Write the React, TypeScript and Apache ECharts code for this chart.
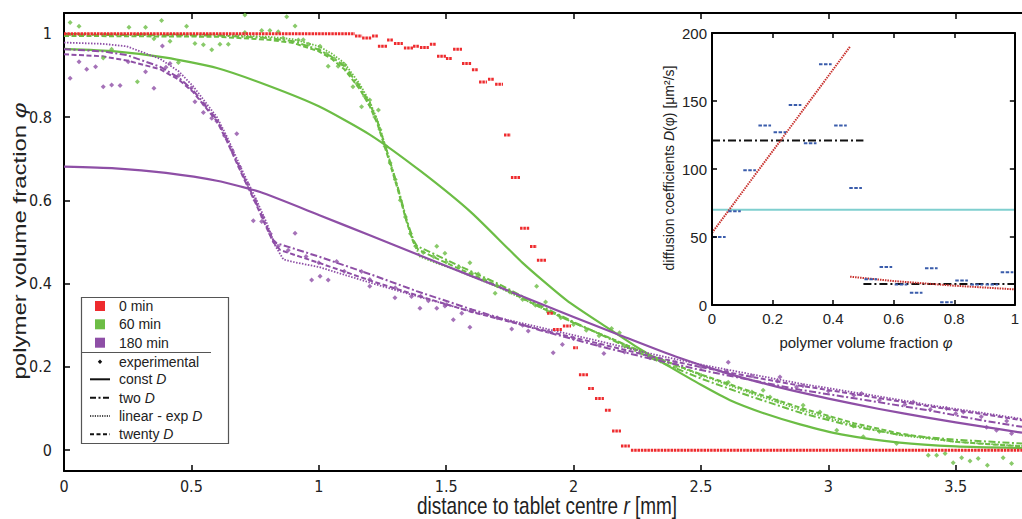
import React, { useEffect, useRef } from 'react';
import * as echarts from 'echarts';

const FONT = "'Liberation Sans', Arial, Helvetica, sans-serif";
const NARROW = "'Liberation Sans Narrow', 'DejaVu Sans Condensed', 'Liberation Sans', Arial, sans-serif";
const RED = '#ee2b2e';
const GREEN = '#6cbd45';
const PURPLE = '#8e4fa6';
const BLUE = '#3a5cab';
const CYAN = '#7fcfcf';
const DRED = '#c8302c';

// ---- main chart ticks ----
const mainXTicks = [0, 0.5, 1, 1.5, 2, 2.5, 3, 3.5];
const mainYTicks = [0, 0.2, 0.4, 0.6, 0.8, 1];

// ---- 0 min: experimental profile plateaus [rStart, rEnd, phi] ----
const red0min = [
  [0, 1.142, 1.0], [1.142, 1.17, 0.995], [1.17, 1.209, 0.99], [1.209, 1.232, 0.995],
  [1.232, 1.268, 0.97], [1.268, 1.291, 0.985], [1.295, 1.33, 0.977], [1.334, 1.37, 0.966],
  [1.37, 1.393, 0.97], [1.397, 1.432, 0.967], [1.436, 1.46, 0.975], [1.464, 1.499, 0.946],
  [1.499, 1.523, 0.941], [1.527, 1.562, 0.963], [1.562, 1.601, 0.929], [1.601, 1.625, 0.914],
  [1.629, 1.66, 0.884], [1.664, 1.688, 0.891], [1.692, 1.723, 0.879], [1.727, 1.754, 0.757],
  [1.754, 1.79, 0.655], [1.79, 1.829, 0.533], [1.829, 1.856, 0.489], [1.856, 1.892, 0.456],
  [1.896, 1.919, 0.329], [1.919, 1.954, 0.29], [1.958, 1.99, 0.298], [1.998, 2.017, 0.246],
  [2.021, 2.057, 0.181], [2.057, 2.08, 0.148], [2.084, 2.119, 0.124], [2.123, 2.147, 0.096],
  [2.151, 2.186, 0.046], [2.186, 2.221, 0.01], [2.225, 3.76, 0.0],
];

// ---- 60 min ----
const green60Exp = [
  [0.024, 1.027], [0.059, 1.018], [0.154, 0.942], [0.187, 0.963], [0.255, 1.016], [0.288, 0.885],
  [0.32, 1.016], [0.353, 0.988], [0.383, 1.032], [0.416, 0.982], [0.449, 0.931], [0.481, 1.018],
  [0.514, 0.977], [0.547, 0.974], [0.58, 0.962], [0.612, 0.975], [0.645, 0.975], [0.71, 1.003],
  [0.71, 1.045], [0.776, 1.008], [0.808, 1.008], [0.841, 1.005], [0.874, 1.041], [0.907, 1.019],
  [0.939, 0.986], [1.005, 0.97], [1.037, 0.922], [1.076, 0.922], [1.103, 0.925], [1.134, 0.873],
  [1.168, 0.825], [1.2, 0.841], [1.234, 0.817], [1.266, 0.729], [1.463, 0.49], [1.495, 0.473],
  [1.593, 0.45], [1.626, 0.423], [1.692, 0.377], [1.855, 0.394], [1.89, 0.356], [2.149, 0.292],
  [2.18, 0.282], [2.607, 0.163], [2.744, 0.144], [2.771, 0.128], [2.901, 0.108], [2.967, 0.092],
  [3.033, 0.048], [3.098, 0.058], [3.137, 0.032], [3.268, 0.016], [3.392, -0.012], [3.425, -0.012],
  [3.458, -0.008], [3.49, -0.03], [3.523, -0.018], [3.556, -0.026], [3.588, -0.02], [3.624, -0.036],
  [3.686, -0.018], [3.719, -0.032],
  [0.86, 0.99], [0.92, 0.985], [0.96, 0.975], [1.0, 0.962], [1.03, 0.952], [1.06, 0.94], [1.09, 0.928],
  [1.12, 0.905], [1.15, 0.88], [1.18, 0.85], [1.2, 0.83], [1.22, 0.8], [1.24, 0.77], [1.26, 0.73],
  [1.28, 0.69], [1.3, 0.65], [1.32, 0.6], [1.34, 0.56], [1.36, 0.52], [1.38, 0.49], [1.41, 0.475],
  [1.45, 0.465], [1.5, 0.452], [1.55, 0.44], [1.6, 0.425], [1.65, 0.41], [1.7, 0.395], [1.75, 0.38],
  [1.8, 0.362], [1.85, 0.348], [1.9, 0.332], [1.95, 0.318], [2.0, 0.302], [2.05, 0.288], [2.1, 0.275],
  [2.2, 0.25], [2.3, 0.225], [2.4, 0.2], [2.5, 0.18], [2.6, 0.16], [2.7, 0.14], [2.8, 0.118],
  [2.9, 0.098], [3.0, 0.078], [3.1, 0.06], [3.2, 0.045],
];
const green60Const = [
  [0, 0.964], [0.2, 0.958], [0.4, 0.943], [0.6, 0.918], [0.8, 0.876], [1.0, 0.826], [1.2, 0.758],
  [1.4, 0.67], [1.6, 0.57], [1.8, 0.45], [1.973, 0.36], [2.143, 0.29], [2.26, 0.243], [2.378, 0.2],
  [2.5, 0.157], [2.614, 0.12], [2.75, 0.088], [2.889, 0.062], [3.05, 0.038], [3.28, 0.018],
  [3.5, 0.009], [3.76, 0.005],
];
const green60TwoD = [
  [0, 0.998], [0.6, 0.996], [0.8, 0.99], [0.9, 0.982], [1.0, 0.962], [1.05, 0.945], [1.1, 0.922],
  [1.16, 0.874], [1.2, 0.832], [1.23, 0.79], [1.27, 0.713], [1.31, 0.632], [1.345, 0.553], [1.371, 0.505],
  [1.386, 0.49], [1.45, 0.472], [1.55, 0.443], [1.71, 0.398], [1.87, 0.347], [2.0, 0.308], [2.14, 0.268],
  [2.3, 0.222], [2.5, 0.172], [2.7, 0.128], [2.9, 0.088], [3.1, 0.057], [3.28, 0.037], [3.5, 0.025],
  [3.76, 0.016],
];
const green60LinExp = [
  [0, 1.0], [0.6, 0.998], [0.8, 0.993], [0.9, 0.987], [1.0, 0.97], [1.05, 0.953], [1.1, 0.93],
  [1.16, 0.88], [1.2, 0.837], [1.23, 0.793], [1.27, 0.714], [1.31, 0.63], [1.345, 0.55], [1.371, 0.5],
  [1.397, 0.465], [1.45, 0.452], [1.55, 0.43], [1.71, 0.39], [1.87, 0.343], [2.0, 0.306], [2.14, 0.27],
  [2.3, 0.228], [2.5, 0.18], [2.7, 0.136], [2.9, 0.095], [3.1, 0.06], [3.28, 0.036], [3.5, 0.02],
  [3.76, 0.01],
];
const green60TwentyD = [
  [0, 0.995], [0.6, 0.993], [0.8, 0.986], [0.9, 0.978], [1.0, 0.958], [1.05, 0.94], [1.1, 0.915],
  [1.16, 0.868], [1.2, 0.826], [1.23, 0.784], [1.27, 0.707], [1.31, 0.626], [1.345, 0.548], [1.371, 0.5],
  [1.39, 0.482], [1.45, 0.464], [1.55, 0.436], [1.71, 0.393], [1.87, 0.343], [2.0, 0.306], [2.14, 0.27],
  [2.3, 0.228], [2.5, 0.182], [2.7, 0.14], [2.9, 0.1], [3.1, 0.065], [3.28, 0.04], [3.5, 0.02],
  [3.76, 0.009],
];

// ---- 180 min ----
const purple180Exp = [
  [0.024, 0.893], [0.059, 0.933], [0.089, 0.915], [0.124, 0.921], [0.154, 0.873], [0.187, 0.877],
  [0.22, 0.876], [0.252, 0.933], [0.32, 0.909], [0.353, 0.869], [0.386, 0.971], [0.416, 0.929],
  [0.514, 0.837], [0.547, 0.811], [0.58, 0.797], [0.678, 0.76], [0.743, 0.551], [0.776, 0.549],
  [0.907, 0.521], [0.972, 0.409], [1.005, 0.418], [1.037, 0.409], [1.07, 0.453], [1.168, 0.429],
  [1.2, 0.394], [1.299, 0.366], [1.364, 0.369], [1.397, 0.341], [1.43, 0.359], [1.463, 0.341],
  [1.495, 0.346], [1.528, 0.313], [1.561, 0.329], [1.593, 0.295], [1.757, 0.291], [1.822, 0.286],
  [1.92, 0.234], [1.956, 0.254], [2.119, 0.232], [2.607, 0.211], [2.81, 0.176], [2.875, 0.152],
  [3.13, 0.136], [3.333, 0.116], [3.464, 0.1], [3.53, 0.092], [3.621, 0.055], [3.66, 0.048],
  [3.719, 0.04],
  [0.4, 0.92], [0.45, 0.9], [0.5, 0.87], [0.55, 0.83], [0.6, 0.79], [0.63, 0.755], [0.66, 0.72],
  [0.69, 0.68], [0.72, 0.64], [0.75, 0.6], [0.78, 0.56], [0.81, 0.52], [0.84, 0.49], [0.88, 0.48],
  [0.95, 0.465], [1.0, 0.45], [1.1, 0.43], [1.2, 0.41], [1.3, 0.39], [1.4, 0.37], [1.5, 0.35],
  [1.6, 0.335], [1.7, 0.318], [1.8, 0.3], [1.9, 0.285], [2.0, 0.268], [2.1, 0.252], [2.2, 0.236],
  [2.3, 0.222], [2.4, 0.21], [2.5, 0.2], [2.6, 0.19], [2.7, 0.178], [2.8, 0.166], [2.9, 0.155],
  [3.0, 0.142], [3.1, 0.132], [3.2, 0.12], [3.3, 0.11], [3.4, 0.098], [3.5, 0.088], [3.6, 0.08],
  [3.7, 0.07],
];
const purple180Const = [
  [0, 0.681], [0.2, 0.677], [0.4, 0.666], [0.6, 0.647], [0.77, 0.62], [1.0, 0.565], [1.2, 0.516],
  [1.4, 0.467], [1.6, 0.418], [1.8, 0.369], [2.0, 0.32], [2.2, 0.272], [2.4, 0.225], [2.6, 0.185],
  [2.8, 0.152], [3.0, 0.124], [3.2, 0.099], [3.4, 0.077], [3.6, 0.057], [3.76, 0.042],
];
const purple180TwoD = [
  [0, 0.963], [0.15, 0.958], [0.246, 0.949], [0.377, 0.921], [0.45, 0.895], [0.507, 0.864],
  [0.6, 0.794], [0.638, 0.748], [0.703, 0.66], [0.75, 0.6], [0.796, 0.537], [0.821, 0.505],
  [0.835, 0.497], [0.887, 0.487], [1.0, 0.465], [1.214, 0.42], [1.384, 0.382], [1.6, 0.338],
  [1.868, 0.288], [2.1, 0.25], [2.3, 0.22], [2.496, 0.193], [2.7, 0.168], [2.889, 0.145],
  [3.15, 0.12], [3.4, 0.095], [3.6, 0.072], [3.76, 0.056],
];
const purple180LinExp = [
  [0, 0.979], [0.15, 0.976], [0.246, 0.97], [0.377, 0.94], [0.45, 0.91], [0.507, 0.874], [0.6, 0.8],
  [0.638, 0.755], [0.703, 0.667], [0.75, 0.608], [0.796, 0.545], [0.83, 0.49], [0.861, 0.458],
  [0.9, 0.452], [1.0, 0.44], [1.214, 0.4], [1.384, 0.37], [1.6, 0.333], [1.868, 0.295], [2.1, 0.262],
  [2.3, 0.232], [2.496, 0.206], [2.7, 0.182], [2.889, 0.16], [3.15, 0.134], [3.4, 0.108], [3.6, 0.09],
  [3.76, 0.075],
];
const purple180TwentyD = [
  [0, 0.951], [0.15, 0.946], [0.246, 0.936], [0.377, 0.915], [0.45, 0.89], [0.507, 0.86], [0.6, 0.79],
  [0.638, 0.744], [0.703, 0.656], [0.75, 0.596], [0.796, 0.533], [0.821, 0.5], [0.848, 0.481],
  [0.9, 0.47], [1.0, 0.45], [1.214, 0.405], [1.384, 0.372], [1.6, 0.332], [1.868, 0.29], [2.1, 0.256],
  [2.3, 0.226], [2.496, 0.2], [2.7, 0.176], [2.889, 0.155], [3.15, 0.13], [3.4, 0.105], [3.6, 0.087],
  [3.76, 0.072],
];

// ---- inset: diffusion coefficients ----
const twentyDPhiStart = [0, 0.05, 0.1, 0.15, 0.2, 0.25, 0.3, 0.35, 0.4, 0.45, 0.5, 0.55, 0.6, 0.65, 0.7, 0.75, 0.8, 0.85, 0.9, 0.95];
const twentyDCoeff = [50, 69, 99, 132, 127, 147, 119, 177, 132, 86, 19, 28, 15, 9, 27, 2, 18, 15, 15, 24];
const binWidth = 0.05;
const twoDLow = [[0, 121], [0.5, 121]];
const twoDHigh = [[0.5, 15.5], [1, 15.5]];
const constD = [[0, 70], [1, 70]];
const linearD = [[0, 53], [0.456, 190]];
const expD = [[0.456, 20.8], [0.6, 17.6], [0.8, 14.2], [1, 11.5]];

const DASH = [5, 2.5];
const DASHDOT = [7, 2.5, 2, 2.5];
const DOT = [1.5, 1.5];

function fmt(v: number) {
  return String(Math.round(v * 100) / 100);
}

function curve(data: number[][], color: string, type: any, width: number, smooth: any = false) {
  return {
    type: 'line',
    xAxisIndex: 0,
    yAxisIndex: 0,
    data,
    symbol: 'none',
    showSymbol: false,
    smooth,
    silent: true,
    z: 2,
    lineStyle: { color, width, type, join: 'round' },
  };
}

function txt(text: string, x: number, y: number, size: number, extra: any = {}, family: string = FONT) {
  return {
    type: 'text',
    x,
    y,
    z: 60,
    silent: true,
    ...extra,
    style: {
      text,
      fill: '#222',
      fontSize: size,
      fontFamily: family,
      align: extra.align || 'left',
      textAlign: extra.align || 'left',
      verticalAlign: 'middle',
      textVerticalAlign: 'middle',
      rich: {
        a: { fontSize: size, fontFamily: family, fill: '#222' },
        i: { fontSize: size, fontFamily: family, fontStyle: 'italic', fill: '#222' },
      },
    },
  };
}

export default function App() {
  const ref = useRef<HTMLDivElement>(null);

  useEffect(() => {
    const chart = echarts.init(ref.current!, null, { renderer: 'svg' });

    const mainAxisBase = {
      type: 'value',
      gridIndex: 0,
      min: 0,
      max: 3.76,
      splitLine: { show: false },
      axisLine: { show: true, onZero: false, lineStyle: { color: '#000', width: 2 } },
      axisTick: { show: true, inside: true, length: 6, customValues: mainXTicks, lineStyle: { color: '#000', width: 1.5 } },
    };
    const insetXBase = {
      type: 'value',
      gridIndex: 1,
      min: 0,
      max: 1,
      interval: 0.2,
      z: 30,
      splitLine: { show: false },
      axisLine: { show: true, onZero: false, lineStyle: { color: '#000', width: 2 } },
      axisTick: { show: true, inside: true, length: 5, lineStyle: { color: '#000', width: 1.5 } },
    };
    const insetYBase = {
      type: 'value',
      gridIndex: 1,
      min: 0,
      max: 200,
      interval: 50,
      z: 30,
      splitLine: { show: false },
      axisLine: { show: true, onZero: false, lineStyle: { color: '#000', width: 2 } },
      axisTick: { show: true, inside: true, length: 5, lineStyle: { color: '#000', width: 1.5 } },
    };

    const insetSeriesBase = { xAxisIndex: 2, yAxisIndex: 1, z: 20, silent: true };

    const option: any = {
      animation: false,
      backgroundColor: '#fff',
      grid: [
        { left: 64, top: 13, width: 958, height: 458, show: false },
        { left: 712, top: 33, width: 306, height: 272, show: false },
      ],
      xAxis: [
        {
          ...mainAxisBase,
          position: 'bottom',
          axisLabel: {
            customValues: mainXTicks,
            formatter: fmt,
            fontSize: 16,
            color: '#222',
            fontFamily: NARROW,
            margin: 7,
          },
        },
        { ...mainAxisBase, position: 'top', axisLabel: { show: false } },
        {
          ...insetXBase,
          position: 'bottom',
          axisLabel: { formatter: fmt, fontSize: 15, color: '#222', fontFamily: FONT, margin: 6 },
        },
        { ...insetXBase, position: 'top', axisLabel: { show: false } },
      ],
      yAxis: [
        {
          type: 'value',
          gridIndex: 0,
          min: -0.05,
          max: 1.05,
          position: 'left',
          splitLine: { show: false },
          axisLine: { show: true, onZero: false, lineStyle: { color: '#000', width: 2 } },
          axisTick: { show: true, inside: true, length: 6, customValues: mainYTicks, lineStyle: { color: '#000', width: 1.5 } },
          axisLabel: { customValues: mainYTicks, formatter: fmt, fontSize: 16, color: '#222', fontFamily: NARROW, margin: 12 },
        },
        {
          ...insetYBase,
          position: 'left',
          axisLabel: { fontSize: 15, color: '#222', fontFamily: FONT, margin: 5 },
        },
        { ...insetYBase, position: 'right', axisLabel: { show: false } },
      ],
      series: [
        // 0 min profile
        {
          type: 'custom',
          xAxisIndex: 0,
          yAxisIndex: 0,
          z: 3,
          silent: true,
          data: red0min,
          encode: { x: [0, 1], y: 2 },
          renderItem: (params: any, api: any) => {
            const a = api.coord([api.value(0), api.value(2)]);
            const b = api.coord([api.value(1), api.value(2)]);
            return {
              type: 'line',
              shape: { x1: a[0], y1: a[1], x2: b[0], y2: b[1] },
              style: { stroke: RED, lineWidth: 3, lineDash: [2.5, 0.8] },
            };
          },
        },
        curve(green60Const, GREEN, 'solid', 2.2, 0.2),
        curve(green60TwoD, GREEN, DASHDOT, 2),
        curve(green60LinExp, GREEN, DOT, 1.8),
        curve(green60TwentyD, GREEN, DASH, 2),
        curve(purple180Const, PURPLE, 'solid', 2.2, 0.2),
        curve(purple180TwoD, PURPLE, DASHDOT, 2),
        curve(purple180LinExp, PURPLE, DOT, 1.8),
        curve(purple180TwentyD, PURPLE, DASH, 2),
        {
          type: 'scatter',
          xAxisIndex: 0,
          yAxisIndex: 0,
          data: green60Exp,
          symbol: 'diamond',
          symbolSize: 5,
          itemStyle: { color: GREEN },
          silent: true,
          z: 2,
        },
        {
          type: 'scatter',
          xAxisIndex: 0,
          yAxisIndex: 0,
          data: purple180Exp,
          symbol: 'diamond',
          symbolSize: 5,
          itemStyle: { color: PURPLE },
          silent: true,
          z: 2,
        },
        // inset
        {
          ...insetSeriesBase,
          type: 'line',
          data: constD,
          symbol: 'none',
          lineStyle: { color: CYAN, width: 2 },
        },
        {
          ...insetSeriesBase,
          type: 'line',
          data: twoDLow,
          symbol: 'none',
          lineStyle: { color: '#111', width: 2, type: [8, 3, 2, 3] },
        },
        {
          ...insetSeriesBase,
          type: 'line',
          data: twoDHigh,
          symbol: 'none',
          lineStyle: { color: '#111', width: 2, type: [8, 3, 2, 3] },
        },
        {
          ...insetSeriesBase,
          type: 'line',
          data: linearD,
          symbol: 'none',
          lineStyle: { color: DRED, width: 2, type: [1.5, 1] },
        },
        {
          ...insetSeriesBase,
          type: 'line',
          data: expD,
          symbol: 'none',
          smooth: false,
          lineStyle: { color: DRED, width: 2, type: [1.5, 1] },
        },
        {
          ...insetSeriesBase,
          type: 'custom',
          z: 21,
          data: twentyDPhiStart.map((s, i) => [s, s + binWidth, twentyDCoeff[i]]),
          encode: { x: [0, 1], y: 2 },
          renderItem: (params: any, api: any) => {
            const a = api.coord([api.value(0), api.value(2)]);
            const b = api.coord([api.value(1), api.value(2)]);
            return {
              type: 'line',
              shape: { x1: a[0] + 1, y1: a[1], x2: b[0] - 1.5, y2: b[1] },
              style: { stroke: BLUE, lineWidth: 2, lineDash: [3.5, 1.5] },
            };
          },
        },
      ],
      graphic: {
        elements: [
          // inset background
          {
            type: 'rect',
            z: 10,
            silent: true,
            shape: { x: 712, y: 33, width: 306, height: 272 },
            style: { fill: '#fff' },
          },
          // axis titles
          txt('{a|polymer volume fraction }{i|φ}', 20, 241, 24, { rotation: Math.PI / 2, scaleY: 0.78, align: 'center' }),
          txt('{a|distance to tablet centre }{i|r}{a| [mm]}', 547, 506, 24, { scaleX: 0.79, align: 'center' }),
          txt('{a|diffusion coefficients }{i|D}{a|(φ) [μm²/s]}', 669, 168, 14, { rotation: Math.PI / 2, align: 'center' }),
          txt('{a|polymer volume fraction }{i|φ}', 866, 342, 15, { align: 'center' }),
          // legend box
          {
            type: 'rect',
            z: 55,
            silent: true,
            shape: { x: 81.5, y: 297.5, width: 147, height: 146 },
            style: { fill: '#fff', stroke: '#555', lineWidth: 1.2 },
          },
          {
            type: 'line',
            z: 56,
            silent: true,
            shape: { x1: 82, y1: 352.5, x2: 211, y2: 352.5 },
            style: { stroke: '#555', lineWidth: 1.2 },
          },
          { type: 'rect', z: 56, silent: true, shape: { x: 95, y: 301, width: 10, height: 10 }, style: { fill: RED } },
          { type: 'rect', z: 56, silent: true, shape: { x: 95, y: 319.3, width: 10, height: 10 }, style: { fill: GREEN } },
          { type: 'rect', z: 56, silent: true, shape: { x: 95, y: 337.7, width: 10, height: 10 }, style: { fill: PURPLE } },
          {
            type: 'polygon',
            z: 56,
            silent: true,
            shape: { points: [[100, 359.5], [102.2, 361.7], [100, 363.9], [97.8, 361.7]] },
            style: { fill: '#111' },
          },
          { type: 'line', z: 56, silent: true, shape: { x1: 90, y1: 379.3, x2: 110, y2: 379.3 }, style: { stroke: '#111', lineWidth: 2 } },
          { type: 'line', z: 56, silent: true, shape: { x1: 90, y1: 397.7, x2: 110, y2: 397.7 }, style: { stroke: '#111', lineWidth: 2, lineDash: [6, 2.5, 2, 2.5] } },
          { type: 'line', z: 56, silent: true, shape: { x1: 90, y1: 416, x2: 110, y2: 416 }, style: { stroke: '#111', lineWidth: 1.5, lineDash: [1.2, 1.2] } },
          { type: 'line', z: 56, silent: true, shape: { x1: 90, y1: 434.3, x2: 110, y2: 434.3 }, style: { stroke: '#111', lineWidth: 2, lineDash: [4, 2.5] } },
          txt('{a|0 min}', 119, 306, 14),
          txt('{a|60 min}', 119, 324.3, 14),
          txt('{a|180 min}', 119, 342.7, 14),
          txt('{a|experimental}', 119, 361.7, 14),
          txt('{a|const }{i|D}', 119, 379.3, 14),
          txt('{a|two }{i|D}', 119, 397.7, 14),
          txt('{a|linear - exp }{i|D}', 119, 416, 14),
          txt('{a|twenty }{i|D}', 119, 434.3, 14),
        ],
      },
    };

    chart.setOption(option);
    return () => chart.dispose();
  }, []);

  return (
    <div
      ref={ref}
      style={{ position: 'fixed', left: 0, top: 0, width: 1022, height: 519, background: '#fff' }}
    />
  );
}
